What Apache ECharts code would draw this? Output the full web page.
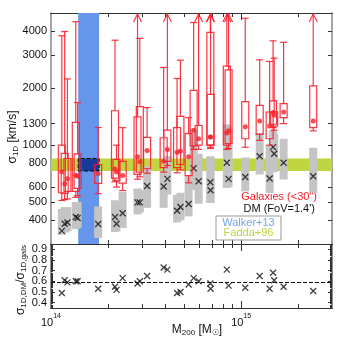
<!DOCTYPE html>
<html>
<head>
<meta charset="utf-8">
<script src="https://cdn.jsdelivr.net/npm/echarts@6/dist/echarts.min.js"></script>
<style>
  html, body { margin: 0; padding: 0; background: #fff; }
  #chart { width: 340px; height: 340px; }
</style>
</head>
<body>
<div id="chart"></div>
<script>
// cluster masses M200 [Msun]
var mass = [1.14e14, 1.18e14, 1.22e14, 1.35e14, 1.38e14, 1.77e14, 2.17e14, 2.21e14, 2.38e14, 2.85e14,
            2.93e14, 3.20e14, 3.91e14, 4.09e14, 4.60e14, 4.79e14, 5.29e14, 5.62e14, 5.97e14, 6.88e14,
            6.90e14, 8.40e14, 8.58e14, 1.05e15, 1.25e15, 1.41e15, 1.47e15, 1.49e15, 1.67e15, 2.39e15];
// galaxies (<30"): whisker ends, box edges, median [km/s]; 9999 = off the top (arrow)
var galLo  = [510, 515, 520, 530, 540, 554, 640, 600, 575, 660, 680, 710, 720, 780, 714, 740, 632, 950, 950, 975, 960, 950, 960, 975, 1060, 1000, 1240, 1200, 1300, 1190];
var galQ1  = [560, 555, 570, 570, 590, 627, 670, 650, 630, 700, 720, 750, 760, 820, 760, 790, 690, 990, 1000, 1000, 1000, 1000, 1020, 1081, 1140, 1081, 1290, 1260, 1398, 1237];
var galQ3  = [1000, 905, 850, 1320, 900, 790, 1520, 840, 820, 1410, 1600, 1100, 1094, 1200, 1237, 1420, 1150, 1950, 1270, 3950, 1858, 2620, 2500, 1701, 1625, 1497, 1713, 1500, 1660, 2058];
var galHi  = [3790, 3990, 2240, 4500, 1680, 1240, 3590, 1000, 1237, 9999, 3670, 1580, 2576, 9999, 2252, 2815, 1400, 4450, 9999, 9999, 9999, 9999, 9999, 4690, 2827, 2773, 3563, 2886, 3498, 9999];
var galMed = [723, 624, 664, 693, 685, 708, 749, 720, 690, 868, 817, 937, 823, 949, 918, 932, 868, 1200, 1081, 1103, 1103, 1160, 1190, 1250, 1341, 1262, 1486, 1438, 1497, 1340];
// DM (FoV=1.4'): range and value [km/s]
var dmLo    = [336, 345, 350, 360, 365, 323, 347, 350, 365, 430, 440, 466, 466, 548, 390, 400, 420, 580, 490, 495, 495, 594, 600, 570, 699, 559, 720, 720, 658, 559];
var dmHi    = [460, 470, 470, 500, 500, 474, 511, 505, 566, 590, 580, 774, 728, 874, 545, 560, 685, 1220, 900, 874, 860, 1288, 1250, 860, 1164, 1000, 1200, 1150, 1080, 969];
var dmSigma = [352, 384, 390, 417, 412, 383, 417, 384, 436, 498, 498, 608, 604, 663, 450, 471, 488, 754, 644, 636, 577, 807, 663, 678, 874, 666, 976, 900, 807, 685];
// sigma_DM / sigma_gals
var ratio = [0.49, 0.61, 0.59, 0.60, 0.60, 0.53, 0.55, 0.52, 0.63, 0.58, 0.60, 0.65, 0.73, 0.71, 0.49,
             0.50, 0.57, 0.63, 0.60, 0.58, 0.53, 0.71, 0.56, 0.54, 0.65, 0.53, 0.68, 0.61, 0.55, 0.51];
var ratioMean = 0.59;
// literature bands
var walkerMass = [1.39e14, 1.79e14];
var faddaSigma = [730, 850];
// axes
var massMin = 1e14, massMax = 3e15;
var sigmaMin = 300, sigmaMax = 5000;
var ratioMin = 0.35, ratioMax = 0.95;
var massTicks = [2e14, 3e14, 4e14, 5e14, 6e14, 7e14, 8e14, 9e14, 2e15];
var massMajor = [1e15];
var massLabels = [1e14, 1e15];
var sigmaTicks = [400, 500, 600, 800, 1000, 1300, 2000, 3000, 4000];
var ratioTicks = [0.4, 0.5, 0.6, 0.7, 0.8, 0.9];
var ratioLabelsA = [0.4, 0.6, 0.8];
var ratioLabelsB = [0.5, 0.7, 0.9];
var ratioMinor = [0.36, 0.37, 0.38, 0.39, 0.41, 0.42, 0.43, 0.44, 0.45, 0.46, 0.47, 0.48, 0.49,
                  0.51, 0.52, 0.53, 0.54, 0.55, 0.56, 0.57, 0.58, 0.59, 0.61, 0.62, 0.63, 0.64,
                  0.65, 0.66, 0.67, 0.68, 0.69, 0.71, 0.72, 0.73, 0.74, 0.75, 0.76, 0.77, 0.78,
                  0.79, 0.81, 0.82, 0.83, 0.84, 0.85, 0.86, 0.87, 0.88, 0.89, 0.91, 0.92, 0.93, 0.94];

var FONT = '"Liberation Sans", Arial, sans-serif';
var RED = '#f8202c';
var frame = '#333';

var chart = echarts.init(document.getElementById('chart'));

function xAx(grid, pos, ticks, len, labels) {
  return {
    type: 'log', logBase: 10, gridIndex: grid, position: pos, min: massMin, max: massMax,
    axisLine: { show: true, lineStyle: { color: frame, width: 1 } },
    axisTick: { show: true, inside: true, length: len, customValues: ticks, lineStyle: { color: frame } },
    axisLabel: labels ? {
      show: true, customValues: massLabels, margin: 5, color: '#111', interval: 0,
      showMinLabel: true, showMaxLabel: true,
      formatter: function (v) { return '{b|10}{s|' + Math.round(Math.log10(v)) + '}'; },
      rich: {
        b: { fontSize: 11, fontFamily: FONT, color: '#111', verticalAlign: 'bottom', padding: [4, 0, 0, 0] },
        s: { fontSize: 7, fontFamily: FONT, color: '#111', verticalAlign: 'top' }
      }
    } : { show: false },
    splitLine: { show: false }
  };
}

function yAx(grid, pos, type, min, max, ticks, len, labels, fmt) {
  return {
    type: type, gridIndex: grid, position: pos, min: min, max: max,
    axisLine: { show: true, lineStyle: { color: '#888', width: 1.5 } },
    axisTick: { show: true, inside: true, length: len, customValues: ticks, lineStyle: { color: frame } },
    axisLabel: labels ? {
      show: true, customValues: labels, margin: 4, fontSize: 11, fontFamily: FONT, color: '#111',
      interval: 0, showMinLabel: true, showMaxLabel: true,
      formatter: fmt
    } : { show: false },
    splitLine: { show: false }
  };
}

var boxData = mass.map(function (m, i) {
  return [m, galLo[i], galQ1[i], galQ3[i], galHi[i]];
});
var barData = mass.map(function (m, i) { return [m, dmLo[i], dmHi[i]]; });

function renderBox(params, api) {
  var x = api.value(0);
  var lo = api.coord([x, api.value(1)]);
  var q1 = api.coord([x, api.value(2)]);
  var q3 = api.coord([x, api.value(3)]);
  var hiV = api.value(4);
  var arrow = hiV > sigmaMax;
  var top = params.coordSys.y;
  var hiY = arrow ? top + 1 : api.coord([x, hiV])[1];
  var cx = lo[0], w = 3.5;
  var st = { stroke: RED, lineWidth: 1.2, fill: null, opacity: 0.9 };
  var kids = [
    { type: 'rect', shape: { x: cx - w, y: q3[1], width: 2 * w, height: q1[1] - q3[1] },
      style: { stroke: RED, lineWidth: 1.2, fill: 'rgba(0,0,0,0)', opacity: 0.9 } },
    { type: 'line', shape: { x1: cx, y1: q3[1], x2: cx, y2: hiY }, style: st },
    { type: 'line', shape: { x1: cx, y1: q1[1], x2: cx, y2: lo[1] }, style: st },
    { type: 'line', shape: { x1: cx - w, y1: lo[1], x2: cx + w, y2: lo[1] }, style: st }
  ];
  if (arrow) {
    kids.push({ type: 'polyline', shape: { points: [[cx - 4, hiY + 8], [cx, hiY], [cx + 4, hiY + 8]] }, style: st });
  } else {
    kids.push({ type: 'line', shape: { x1: cx - w, y1: hiY, x2: cx + w, y2: hiY }, style: st });
  }
  return { type: 'group', children: kids };
}

function renderBar(params, api) {
  var x = api.value(0);
  var a = api.coord([x, api.value(1)]);
  var b = api.coord([x, api.value(2)]);
  return { type: 'rect', shape: { x: a[0] - 4, y: b[1], width: 8, height: a[1] - b[1] }, style: { fill: '#c4c4c4' } };
}

var crossPath = 'path://M0,0L10,10M10,0L0,10';
var fmt1 = function (v) { return v.toFixed(1); };

var option = {
  animation: false,
  backgroundColor: '#fff',
  grid: [
    { left: 51, right: 8, top: 13, height: 231 },
    { left: 51, right: 8, top: 244, height: 64 }
  ],
  xAxis: [
    xAx(0, 'bottom', massTicks, 4, false), xAx(0, 'top', massTicks, 4, false),
    xAx(1, 'bottom', massTicks, 4, true), xAx(1, 'top', massTicks, 4, false),
    xAx(0, 'bottom', massMajor, 7, false), xAx(0, 'top', massMajor, 7, false),
    xAx(1, 'bottom', massMajor, 7, false), xAx(1, 'top', massMajor, 7, false)
  ],
  yAxis: [
    yAx(0, 'left', 'log', sigmaMin, sigmaMax, sigmaTicks, 4, sigmaTicks, function (v) { return String(v); }),
    yAx(0, 'right', 'log', sigmaMin, sigmaMax, sigmaTicks, 4, null),
    yAx(1, 'left', 'value', ratioMin, ratioMax, ratioTicks, 4, ratioLabelsA, fmt1),
    yAx(1, 'right', 'value', ratioMin, ratioMax, ratioTicks, 4, null),
    yAx(1, 'left', 'value', ratioMin, ratioMax, ratioMinor, 2, ratioLabelsB, fmt1),
    yAx(1, 'right', 'value', ratioMin, ratioMax, ratioMinor, 2, null)
  ],
  series: [
    {
      type: 'scatter', xAxisIndex: 0, yAxisIndex: 0, data: [], z: 1, silent: true,
      markArea: {
        silent: true,
        data: [
          [{ xAxis: walkerMass[0], yAxis: sigmaMin, itemStyle: { color: '#6696ec', opacity: 1 } },
           { xAxis: walkerMass[1], yAxis: sigmaMax }],
          [{ xAxis: massMin, yAxis: faddaSigma[0], itemStyle: { color: '#bfd641', opacity: 1 } },
           { xAxis: massMax, yAxis: faddaSigma[1] }],
          [{ xAxis: walkerMass[0], yAxis: faddaSigma[0],
             itemStyle: { color: '#163b9b', opacity: 1, borderColor: '#000', borderWidth: 1, borderType: 'dashed' } },
           { xAxis: walkerMass[1], yAxis: faddaSigma[1] }]
        ]
      }
    },
    {
      type: 'custom', xAxisIndex: 0, yAxisIndex: 0, z: 2, data: barData,
      encode: { x: 0, y: [1, 2] }, renderItem: renderBar, silent: true
    },
    {
      type: 'scatter', xAxisIndex: 0, yAxisIndex: 0, z: 3, silent: true,
      data: mass.map(function (m, i) { return [m, dmSigma[i]]; }),
      symbol: crossPath, symbolSize: 6,
      itemStyle: { color: 'rgba(0,0,0,0)', borderColor: '#111', borderWidth: 1.3 }
    },
    {
      type: 'custom', xAxisIndex: 0, yAxisIndex: 0, z: 4, data: boxData,
      encode: { x: 0, y: [1, 2, 3] }, renderItem: renderBox, silent: true
    },
    {
      type: 'scatter', xAxisIndex: 0, yAxisIndex: 0, z: 5, silent: true,
      data: mass.map(function (m, i) { return [m, galMed[i]]; }),
      symbol: 'circle', symbolSize: 5, itemStyle: { color: RED }
    },
    {
      type: 'scatter', xAxisIndex: 2, yAxisIndex: 2, z: 5, silent: true,
      data: mass.map(function (m, i) { return [m, ratio[i]]; }),
      symbol: crossPath, symbolSize: 6,
      itemStyle: { color: 'rgba(0,0,0,0)', borderColor: '#111', borderWidth: 1.3 },
      markLine: {
        silent: true, symbol: 'none', label: { show: false },
        lineStyle: { color: '#111', type: 'dashed', width: 1 },
        data: [{ yAxis: ratioMean }]
      }
    }
  ],
  graphic: [
    { type: 'text', x: 13, y: 137, rotation: Math.PI / 2,
      style: { text: '{a|σ}{b|1D}{a| [km/s]}', align: 'center', verticalAlign: 'middle',
        rich: { a: { fontSize: 12, fontFamily: FONT, fill: '#111' },
                b: { fontSize: 8, fontFamily: FONT, fill: '#111', verticalAlign: 'bottom', padding: [6, 0, 0, 0] } } } },
    { type: 'text', x: 21, y: 280, rotation: Math.PI / 2,
      style: { text: '{a|σ}{b|1D,DM}{a|/σ}{b|1D,gals}', align: 'center', verticalAlign: 'middle',
        rich: { a: { fontSize: 12, fontFamily: FONT, fill: '#111' },
                b: { fontSize: 8, fontFamily: FONT, fill: '#111', verticalAlign: 'bottom', padding: [6, 0, 0, 0] } } } },
    { type: 'text', x: 197, y: 330,
      style: { text: '{a|M}{b|200}{a| [M}{b|☉}{a|]}', align: 'center', verticalAlign: 'middle',
        rich: { a: { fontSize: 12, fontFamily: FONT, fill: '#111' },
                b: { fontSize: 8, fontFamily: FONT, fill: '#111', verticalAlign: 'bottom', padding: [6, 0, 0, 0] } } } },
    { type: 'text', x: 317, y: 197,
      style: { text: 'Galaxies (<30")', align: 'right', verticalAlign: 'middle', fontSize: 11, fontFamily: FONT, fill: RED } },
    { type: 'text', x: 315, y: 208.5,
      style: { text: "DM (FoV=1.4')", align: 'right', verticalAlign: 'middle', fontSize: 11, fontFamily: FONT, fill: '#111' } },
    { type: 'rect', shape: { x: 216, y: 216, width: 65, height: 24 }, z: 10,
      style: { fill: '#fff', stroke: '#999', lineWidth: 1 } },
    { type: 'text', x: 248.5, y: 222.5, z: 11,
      style: { text: 'Walker+13', align: 'center', verticalAlign: 'middle', fontSize: 11, fontFamily: FONT, fill: '#7aa3ee' } },
    { type: 'text', x: 248.5, y: 232.5, z: 11,
      style: { text: 'Fadda+96', align: 'center', verticalAlign: 'middle', fontSize: 11, fontFamily: FONT, fill: '#bcd43c' } }
  ]
};

chart.setOption(option);
</script>
</body>
</html>
